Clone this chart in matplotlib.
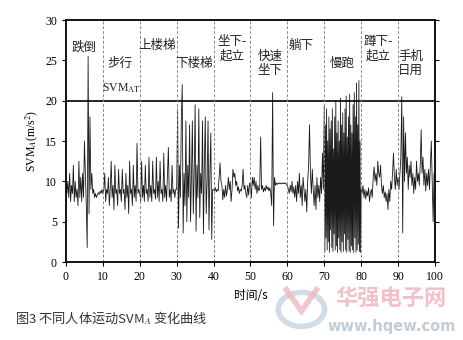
import numpy as np
import matplotlib
matplotlib.use("Agg")
import matplotlib.pyplot as plt
from matplotlib.patches import Circle, Polygon

plt.rcParams['font.family'] = ['Liberation Serif', 'Noto Sans CJK SC']
plt.rcParams['mathtext.fontset'] = 'stix'

# ---- data: SVM_A per activity segment (start time, sample step, values) ----
fall = [9.5, 8.5, 10, 8, 11, 7.5, 9.5, 8.5, 12, 7.5, 10, 8, 9, 7, 12.5, 8, 10.5, 7.5, 11, 8,
        15, 11, 7, 1.8, 25.5, 6, 18, 9, 11, 8.5, 9, 8, 8.5, 8, 8.3, 8.6, 8.4, 8.8, 8.5, 9]
walk = [8.5, 9, 11, 7.5, 9, 8.5, 10.5, 7, 9, 12.5, 8, 9.5, 6.5, 12, 8.5, 9, 7, 11.5, 8.5, 9,
        7.5, 11.5, 8.5, 9, 6.5, 11, 8, 9.5, 6, 12.5, 8.5, 9, 7, 12, 8, 9.5, 7.5, 14.7, 8.5, 9]
upstairs = [8.5, 7.5, 12.5, 8, 9.5, 7.5, 12, 8.5, 9, 7.5, 13, 8, 9.5, 7.5, 12.5, 8.5, 9, 7.8, 13, 8,
            10, 7.5, 12.5, 8.5, 9, 7.5, 13.5, 8, 9.5, 7.5, 11, 14.2, 8, 9, 7.5, 12, 8.5, 9, 8, 9]
downstairs = [9, 19, 4.2, 12, 8, 17.5, 22, 3.6, 11, 7, 17.5, 5, 12, 8, 17, 5, 10.5, 17.5, 6, 11,
              19.5, 3.8, 12, 8, 19, 5.5, 11, 8.5, 17.5, 3.5, 12, 18, 6, 10, 17.5, 4, 11, 16, 2.8, 9]
sit_stand = [9, 8.8, 9.2, 8.7, 9, 8.8, 10.5, 12.3, 10, 9.5, 7.7, 9, 8, 9.5, 8.2, 9, 10.5, 9, 10, 7.5,
             9, 11.5, 10.5, 11, 9.5, 10, 8.8, 9.3, 8.5, 9, 8.8, 9.5, 11.5, 9, 9.5, 8.5, 8, 9.5, 8.3, 9.8]
fast_sit = [9.5, 8, 10.5, 9.5, 10.5, 9, 10, 8.5, 9.5, 8.8, 9.2, 15.5, 9, 9.5, 8.7, 9.2, 8.8, 9.5, 9, 9.3,
            8.8, 9.2, 8.5, 7, 21, 4.5, 10.5, 9.5, 9.8, 9.6, 9.8, 9.7, 9.8, 9.7, 9.8, 9.7, 9.8, 9.7, 9.8, 9.6]
lie_down = [9.5, 9, 8.5, 9.5, 8.7, 10, 8.5, 9.3, 8, 9.5, 7.5, 10, 8.5, 11, 8, 9.5, 7, 10.5, 9, 7.5,
            9, 6.2, 10, 12, 17, 11, 8.5, 11.5, 9, 7, 9.5, 6.5, 10.5, 8, 9.5, 7.5, 10.5, 8.5, 13.5, 9]
run_peaks = [19.5, 17, 19, 15, 18, 16.5, 17.5, 19, 14, 18, 20, 16, 17.5, 15, 20.3, 17,
             18.5, 16, 19, 20.6, 15.5, 18, 20.8, 17, 16, 19.5, 21, 18, 22.2, 17, 22.5, 15]
run_troughs = [1.2, 3, 1.5, 2.5, 1.2, 4, 1.8, 1.3, 3.5, 1.5, 2, 1.2, 3, 1.5, 1.2, 2.5,
               1.3, 3.5, 1.5, 1.2, 2.8, 1.4, 1.2, 2, 1.5, 1.2, 3, 1.2, 1.5, 2.2, 1.3, 1.2]
squat = [9, 8.5, 9.5, 8, 9, 7.8, 8.8, 8.2, 9.2, 7.5, 8.5, 9, 8, 10.5, 11.8, 10, 11, 9.5, 12.5, 11,
         10.5, 12, 9.5, 8.5, 9.5, 8, 8.7, 7.5, 8.5, 6.5, 9, 7.5, 10, 9, 11, 13.5, 10.5, 9, 11.5, 9.5]
phone = [10.5, 9, 11, 13, 20.5, 3.6, 18, 10, 16, 11, 13, 9, 12, 10.5, 12.5, 9.5, 11, 8.5, 10.5, 9,
         12.5, 10, 11, 9.5, 12, 16.4, 11, 13, 9.5, 11.5, 8.8, 11, 9.5, 11.5, 9, 12, 15, 10, 5, 11, 10]

run = [v for pair in zip(run_peaks, run_troughs) for v in pair]
segments = [(0, fall), (10, walk), (20, upstairs), (30, downstairs), (40, sit_stand),
            (50, fast_sit), (60, lie_down), (70, run), (80, squat), (90, phone)]

threshold = 20
boundaries = [10, 20, 30, 40, 50, 60, 70, 80, 90]

# activity labels: (text, time, value)
labels = [("跌倒", 5.0, 26.6), ("步行", 14.6, 24.6), ("上楼梯", 24.8, 26.8), ("下楼梯", 34.8, 24.6),
          ("坐下-\n起立", 45.0, 26.4), ("快速\n坐下", 55.2, 24.6), ("躺下", 63.8, 26.8),
          ("慢跑", 74.8, 24.6), ("蹲下-\n起立", 84.6, 26.4), ("手机\n日用", 93.4, 24.6)]

t_all, v_all = [], []
for start, vals in segments:
    step = 10.0 / len(vals) if len(vals) != 41 else 0.25
    t_all.extend(start + step * np.arange(len(vals)))
    v_all.extend(vals)

fig = plt.figure(figsize=(4.63, 3.40), dpi=100)
ax = fig.add_axes([0.1425, 0.2294, 0.797, 0.7116])

ax.plot(t_all, v_all, color='#1a1a1a', lw=0.6)
ax.axhline(threshold, color='black', lw=1.2)
for b in boundaries:
    ax.axvline(b, color='#888888', lw=0.7, ls=(0, (3, 2)))

ax.set_xlim(0, 100)
ax.set_ylim(0, 30)
ax.set_xticks(range(0, 101, 10))
ax.set_yticks(range(0, 31, 5))
ax.tick_params(axis='both', labelsize=8.5, length=3, width=0.8)
ax.tick_params(axis='y', right=True, direction='out')
for s in ax.spines.values():
    s.set_linewidth(1.3)

ax.set_xlabel("时间/s", fontsize=8.5, family=['Noto Sans CJK SC'], labelpad=4)
ax.set_ylabel(r"SVM$_A$(m/s$^2$)", fontsize=8.5, labelpad=4)

for txt, t, v in labels:
    ax.text(t, v, txt, ha='center', va='center', fontsize=9, family=['Noto Sans CJK SC'],
            color='#222222', linespacing=1.15)
ax.text(15.0, 21.6, r"SVM$_{\rm AT}$", ha='center', va='center', fontsize=8.5, color='#222222')

# caption
fig.text(0.032, 0.065, "图3 不同人体运动SVM$_A$ 变化曲线", fontsize=9.5, style='italic',
         family=['Noto Sans CJK SC', 'DejaVu Sans'], color='#333333', va='center')

# watermark
fig.text(0.845, 0.12, "华强电子网", fontsize=16, family=['Noto Sans CJK SC'],
         color='#f0b0bc', ha='center', va='center', fontweight='bold', alpha=0.8)
fig.text(0.845, 0.04, "www.hqew.com", fontsize=10.5, family=['DejaVu Sans'],
         color='#c3ccdb', ha='center', va='center', fontweight='bold')
fig.patches.append(Circle((0.651, 0.09), 0.05, transform=fig.transFigure, fill=False,
                          ec='#c8d2e2', lw=4, alpha=0.8))
fig.patches.append(Polygon([[0.615, 0.155], [0.651, 0.085], [0.687, 0.155]], closed=False,
                           transform=fig.transFigure, fill=False, ec='#f3b7c2', lw=4, alpha=0.8))

fig.savefig("out.png", dpi=100)
